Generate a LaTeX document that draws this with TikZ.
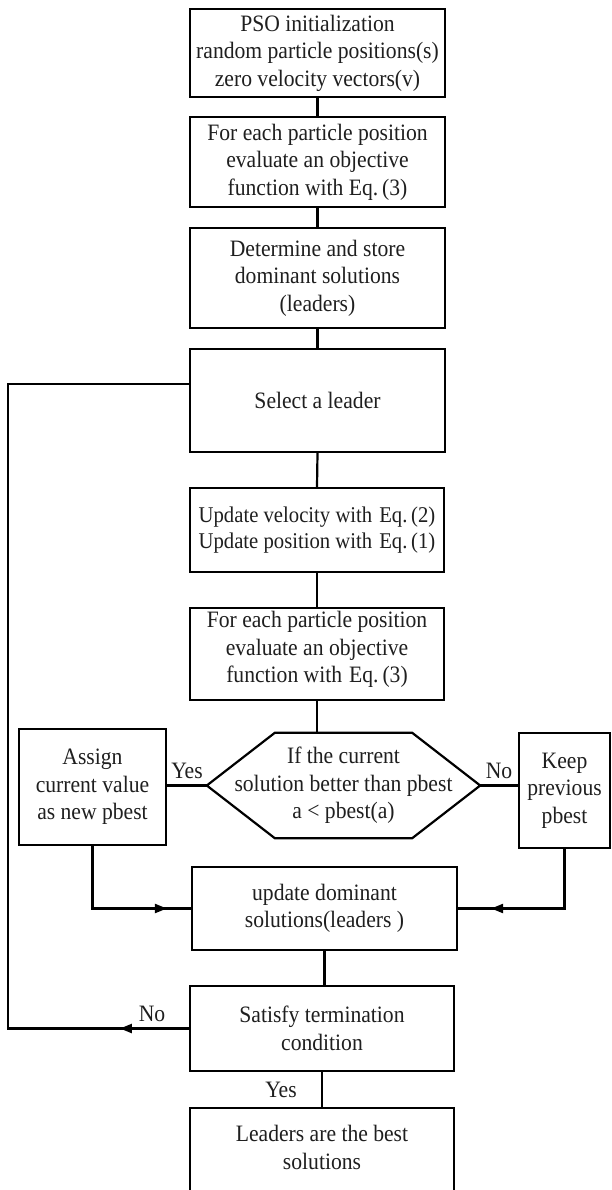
\documentclass[tikz,border=0pt]{standalone}
\usepackage{fontspec}
\setmainfont{Liberation Serif}[FakeStretch=0.92]
\usetikzlibrary{arrows.meta,calc,decorations.markings}
\begin{document}
\begin{tikzpicture}[x=1pt,y=-1pt,
  txt/.style={font=\fontsize{23.5}{27.5}\selectfont, align=center, inner sep=0pt, text=black!88},
  box/.style={txt, draw, rectangle, line width=2.2pt},
  conn/.style={line width=2.2pt},
  lbl/.style={font=\fontsize{23.5}{27.5}\selectfont, inner sep=0pt, text=black!88},
  tipat/.style={postaction={decorate}, decoration={markings,
     mark=at position #1 with {\arrow{Triangle[length=12pt,width=9pt]}}}}
]
\clip (0,0) rectangle (612,1190);
\fill[white] (0,0) rectangle (612,1190);

\node[box, minimum width=255pt, minimum height=88pt] (b1) at (317.5,53)
  {PSO initialization\\random particle positions(s)\\zero velocity vectors(v)\rule[-4pt]{0pt}{4pt}};
\node[box, minimum width=255pt, minimum height=90pt] (b2) at (317.5,162)
  {For each particle position\\evaluate an objective\\function with Eq.\,(3)\rule[-4pt]{0pt}{4pt}};
\node[box, minimum width=255pt, minimum height=100pt] (b3) at (317.5,278)
  {Determine and store\\dominant solutions\\(leaders)};
\node[box, minimum width=255pt, minimum height=103pt] (b4) at (317.5,400.5)
  {Select a leader};
\node[box, minimum width=254pt, minimum height=84pt, font=\fontsize{22.5}{26}\selectfont] (b5) at (317,530)
  {Update velocity with\hspace{7pt}Eq.\,(2)\\Update position with\hspace{7pt}Eq.\,(1)};
\node[box, minimum width=254pt, minimum height=92pt] (b6) at (317,654)
  {For each particle position\\evaluate an objective\\function with\hspace{7pt}Eq.\,(3)\rule[-14pt]{0pt}{14pt}};

\node[txt, minimum width=273pt, minimum height=105pt] (hex) at (343.5,785.5)
  {If the current\\solution better than pbest\\a < pbest(a)};
\draw[conn, line join=miter] ($(hex.north west)+(68,0)$) -- ($(hex.north east)+(-68,0)$) -- (hex.east)
  -- ($(hex.south east)+(-68,0)$) -- ($(hex.south west)+(68,0)$) -- (hex.west) -- cycle;

\node[box, minimum width=147pt, minimum height=116pt] (assign) at (92.5,787)
  {Assign\\current value\\as new pbest};
\node[box, minimum width=91pt, minimum height=115pt] (keep) at (564.5,790.5)
  {Keep\\previous\\pbest};

\node[box, minimum width=265pt, minimum height=83pt] (b7) at (324.5,908.5)
  {update dominant\\solutions(leaders )};
\node[box, minimum width=264pt, minimum height=85pt] (term) at (322,1028.5)
  {Satisfy termination\\condition};
\node[box, minimum width=264pt, minimum height=120pt] (final) at (322,1168)
  {Leaders are the best\\solutions\rule[-41pt]{0pt}{41pt}};

\coordinate (lp) at (8,384);

\draw[conn] (b1.south) -- (b2.north);
\draw[conn] (b2.south) -- (b3.north);
\draw[conn] (b3.south) -- (b4.north);
\draw[conn] (b4.south) -- (b5.north);
\draw[conn] (b5.south) -- (b6.north);
\draw[conn] (b6.south) -- (b6.south |- hex.north);
\draw[conn] (hex.west) -- (assign.east |- hex.west);
\draw[conn] (hex.east) -- (keep.west |- hex.east);
\draw[conn, tipat=-24pt] (assign.south) |- (b7.west);
\draw[conn, tipat=-33pt] (keep.south) |- (b7.east);
\draw[conn] (b7.south) -- (b7.south |- term.north);
\draw[conn] (term.south) -- (final.north);
\draw[conn, tipat=69pt] (term.west) -| (lp) -- (b4.west |- lp);

\node[lbl] (yes1) at (187,771) {Yes};
\node[lbl] (no1) at (499,771) {No};
\node[lbl] (no2) at (152,1014) {No};
\node[lbl] (yes2) at (281,1090) {Yes};
\end{tikzpicture}
\end{document}
